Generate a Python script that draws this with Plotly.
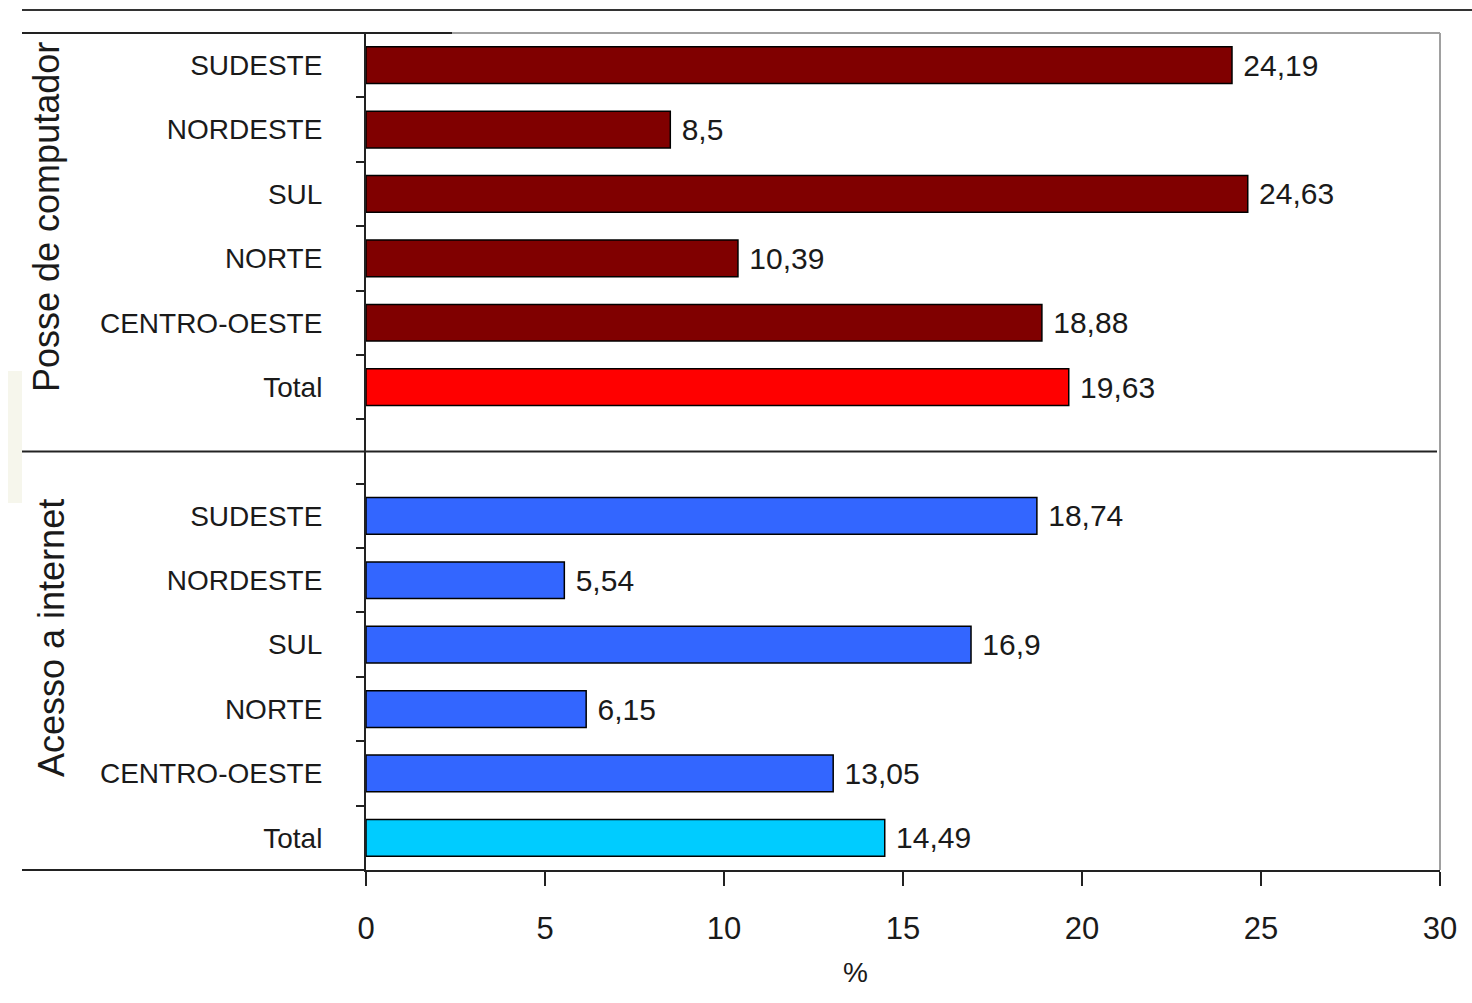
import plotly.graph_objects as go

# Regional shares (%) for two indicators
regions = ["SUDESTE", "NORDESTE", "SUL", "NORTE", "CENTRO-OESTE", "Total"]
posse_computador = [24.19, 8.5, 24.63, 10.39, 18.88, 19.63]
acesso_internet = [18.74, 5.54, 16.9, 6.15, 13.05, 14.49]
group_titles = ["Posse de computador", "Acesso a internet"]
x_ticks = [0, 5, 10, 15, 20, 25, 30]
x_title = "%"

FONT = "Liberation Sans, Arial, sans-serif"

# Row slots: first group 0..5, an empty slot 6, second group 7..12
pos_top = list(range(len(regions)))
pos_bot = [len(regions) + 1 + i for i in range(len(regions))]
n_slots = len(regions) * 2 + 1


def fmt(v):
    return str(v).replace(".", ",")


top_colors = ["#800000"] * (len(regions) - 1) + ["#ff0000"]
bot_colors = ["#3366ff"] * (len(regions) - 1) + ["#00ccff"]

fig = go.Figure()
for vals, pos, cols in [(posse_computador, pos_top, top_colors),
                        (acesso_internet, pos_bot, bot_colors)]:
    fig.add_trace(go.Bar(
        x=vals, y=pos, orientation="h", width=0.57,
        marker=dict(color=cols, line=dict(color="black", width=1.5)),
        text=[" " + fmt(v) for v in vals], textposition="outside",
        constraintext="none", cliponaxis=False,
        textfont=dict(family=FONT, size=30, color="#1a1a1a"),
        showlegend=False, hoverinfo="skip",
    ))

W, H = 1472, 1003
L, R, T, B = 366, 32, 33, 133
pw, ph = W - L - R, H - T - B


def px(xpix):
    return (xpix - L) / pw


def py(ypix):
    return (T + ph - ypix) / ph


shapes = [
    # divider between the two groups
    dict(type="line", xref="paper", yref="y", x0=px(22), x1=px(1437),
         y0=len(regions), y1=len(regions), line=dict(color="#222", width=2)),
    # bottom rule extended to the left
    dict(type="line", xref="paper", yref="paper", x0=px(22), x1=0,
         y0=0, y1=0, line=dict(color="#222", width=2)),
    # light frame top and right
    dict(type="line", xref="paper", yref="paper", x0=0, x1=1, y0=1, y1=1,
         line=dict(color="#a0a0a0", width=2)),
    dict(type="line", xref="paper", yref="paper", x0=1, x1=1, y0=0, y1=1,
         line=dict(color="#a0a0a0", width=2)),
    # dark top rules
    dict(type="line", xref="paper", yref="paper", x0=px(22), x1=px(452),
         y0=1, y1=1, line=dict(color="#222", width=2)),
    dict(type="line", xref="paper", yref="paper", x0=px(22), x1=px(1472),
         y0=py(10), y1=py(10), line=dict(color="#333", width=2)),
    # faint tinted strip on the left edge
    dict(type="rect", xref="paper", yref="paper", x0=px(8), x1=px(22),
         y0=py(503), y1=py(371), line=dict(width=0), fillcolor="#f6f6ec",
         layer="below"),
]

annotations = [
    dict(text=group_titles[0], xref="paper", yref="paper", x=px(46), y=py(217),
         textangle=-90, showarrow=False, xanchor="center", yanchor="middle",
         font=dict(family=FONT, size=36, color="#1a1a1a")),
    dict(text=group_titles[1], xref="paper", yref="paper", x=px(51), y=py(638),
         textangle=-90, showarrow=False, xanchor="center", yanchor="middle",
         font=dict(family=FONT, size=36, color="#1a1a1a")),
    dict(text=x_title, xref="paper", yref="paper", x=px(855), y=py(972),
         showarrow=False, xanchor="center", yanchor="middle",
         font=dict(family=FONT, size=28, color="#1a1a1a")),
]

fig.update_layout(
    width=W, height=H,
    margin=dict(l=L, r=R, t=T, b=B, pad=0),
    paper_bgcolor="white", plot_bgcolor="white",
    shapes=shapes, annotations=annotations,
    font=dict(family=FONT, color="#1a1a1a"),
    xaxis=dict(
        range=[0, 30], tickvals=x_ticks, ticktext=[str(t) for t in x_ticks],
        showgrid=False, zeroline=False, showline=True, linecolor="#222", linewidth=2,
        ticks="outside", ticklen=14, tickwidth=2, tickcolor="#222",
        ticklabelstandoff=16,
        tickfont=dict(family=FONT, size=31, color="#1a1a1a"),
        fixedrange=True,
    ),
    yaxis=dict(
        range=[n_slots - 0.5, -0.5],
        tickvals=pos_top + pos_bot, ticktext=regions + regions,
        showgrid=False, zeroline=False, showline=True, linecolor="#222", linewidth=2,
        ticks="", ticklabelstandoff=36,
        tickfont=dict(family=FONT, size=28, color="#1a1a1a"),
        minor=dict(tickmode="array", tickvals=[i - 0.5 for i in range(n_slots + 1)],
                   ticks="outside", ticklen=8, tickwidth=2, tickcolor="#222",
                   showgrid=False),
        fixedrange=True,
    ),
)

fig.write_html("out.html")
